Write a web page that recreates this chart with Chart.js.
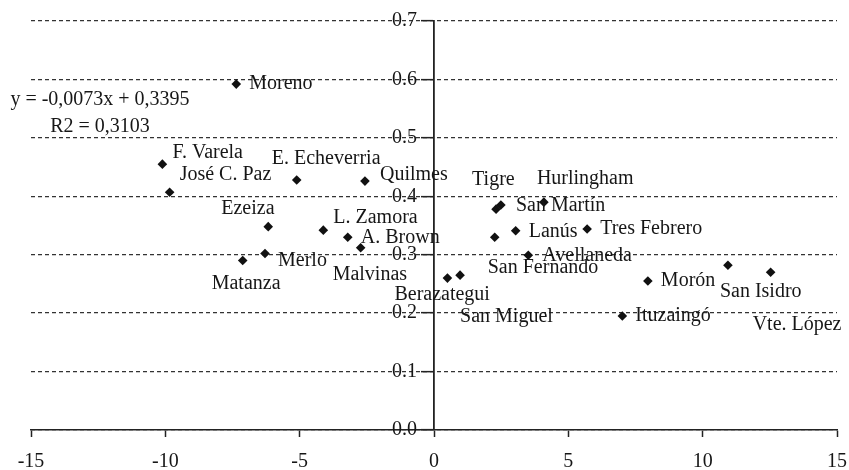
<!DOCTYPE html>
<html><head><meta charset="utf-8">
<script src="https://cdn.jsdelivr.net/npm/chart.js@4/dist/chart.umd.min.js"></script>
<style>html,body{margin:0;padding:0;background:#fff}#wrap{width:849px;height:470px}</style>
</head><body><div id="wrap"><canvas id="c" width="849" height="470"></canvas></div>
<script>
// ---- data ----
const names = ['Moreno','F. Varela','José C. Paz','E. Echeverria','Quilmes','Ezeiza','L. Zamora','A. Brown','Malvinas','Merlo','Matanza','Tigre','San Martín','Hurlingham','Lanús','Tres Febrero','Avellaneda','San Fernando','Berazategui','San Miguel','Morón','Ituzaingó','San Isidro','Vte. López'];
const xValues = [-7.36,-10.11,-9.84,-5.11,-2.57,-6.17,-4.12,-3.21,-2.73,-6.29,-7.12,2.31,2.49,4.09,3.04,5.70,3.51,2.26,0.50,0.97,7.96,7.01,10.94,12.53];
const yValues = [0.592,0.455,0.407,0.428,0.426,0.348,0.342,0.330,0.312,0.302,0.290,0.378,0.385,0.390,0.341,0.344,0.299,0.330,0.260,0.265,0.255,0.195,0.282,0.270];
const xTicks = [-15,-10,-5,0,5,10,15];
const xTickLabels = ['-15','-10','-5','0','5','10','15'];
const yTicks = [0,0.1,0.2,0.3,0.4,0.5,0.6,0.7];
const yTickLabels = ['0.0','0.1','0.2','0.3','0.4','0.5','0.6','0.7'];
const eqLines = ['y = -0,0073x + 0,3395','R2 = 0,3103'];

// ---- label placement (pixel offsets from each point to text left/middle) ----
const labelDx = [13,10,10,-25,15,-47,10,13,-28,13,-31,-24,15,-7,13,13,14,-7,-53,0,13,13,-8,-18];
const labelDy = [0,-11,-17,-21,-6,-18,-12,1,27,7,23,-29,1,-23,1,0,0,31,17,42,0,0,27,53];

const FONT = '"Liberation Serif", "Times New Roman", serif';
const textColor = '#161616';

const labelPlugin = {
  id: 'pointLabels',
  afterDatasetsDraw(chart) {
    const ctx = chart.ctx;
    const meta = chart.getDatasetMeta(0);
    ctx.save();
    ctx.font = '20px ' + FONT;
    ctx.fillStyle = textColor;
    ctx.textAlign = 'left';
    ctx.textBaseline = 'middle';
    meta.data.forEach((pt, i) => {
      ctx.fillText(names[i], pt.x + labelDx[i], pt.y + labelDy[i]);
    });
    // y tick labels, placed left of the centred y axis
    const xs = chart.scales.x, ys = chart.scales.y;
    const axisX = xs.getPixelForValue(0);
    ctx.textAlign = 'right';
    yTicks.forEach((v, i) => {
      ctx.fillText(yTickLabels[i], axisX - 17, ys.getPixelForValue(v));
    });
    // regression annotation
    ctx.textAlign = 'center';
    ctx.fillText(eqLines[0], 100, 100);
    ctx.fillText(eqLines[1], 100, 127);
    ctx.restore();
  }
};

new Chart(document.getElementById('c'), {
  type: 'scatter',
  data: {
    datasets: [{
      data: xValues.map((x, i) => ({x: x, y: yValues[i]})),
      pointStyle: 'rectRot',
      pointRadius: 4.8,
      pointHoverRadius: 4.8,
      backgroundColor: '#111',
      borderColor: '#111',
      borderWidth: 0
    }]
  },
  options: {
    responsive: false,
    animation: false,
    events: [],
    layout: {padding: {left: 31, right: 12, top: 21, bottom: 0}},
    plugins: {legend: {display: false}, tooltip: {enabled: false}},
    scales: {
      x: {
        type: 'linear',
        position: 'bottom',
        min: -15, max: 15,
        afterBuildTicks: s => { s.ticks = xTicks.map(v => ({value: v})); },
        afterFit: s => { s.height = 40; },
        ticks: {
          callback: (v, i) => xTickLabels[i],
          font: {family: FONT, size: 20, lineHeight: 2.5},
          color: textColor,
          padding: 0,
          maxRotation: 0,
          autoSkip: false
        },
        grid: {drawOnChartArea: false, drawTicks: true, tickLength: 7, tickColor: '#222', tickWidth: 1.5},
        border: {display: true, color: '#222', width: 1.6}
      },
      y: {
        type: 'linear',
        position: {x: 0},
        min: 0, max: 0.7,
        afterBuildTicks: s => { s.ticks = yTicks.map(v => ({value: v})); },
        afterFit: s => { s.width = 0; },
        ticks: {display: false},
        grid: {display: true, drawOnChartArea: true, color: '#333', lineWidth: 1.3, drawTicks: true, tickLength: 12, tickColor: '#222', tickWidth: 1.5},
        border: {display: true, color: '#222', width: 1.8, dash: [4, 3]}
      }
    }
  },
  plugins: [labelPlugin]
});
</script>
</body></html>
